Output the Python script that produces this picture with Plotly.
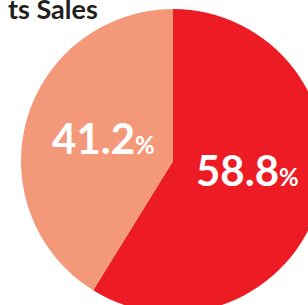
import plotly.graph_objects as go

categories = ["Segment A", "Segment B"]
values = [58.8, 41.2]
colors = ["#ED1C24", "#F4987A"]
title_text = "ts Sales"

W, H = 330, 320
cx, cy, r = 173, 161, 152

fig = go.Figure(go.Pie(
    labels=categories,
    values=values,
    sort=False,
    direction="clockwise",
    rotation=0,
    marker=dict(colors=colors, line=dict(width=0)),
    textinfo="none",
    hoverinfo="label+percent",
    showlegend=False,
    domain=dict(x=[(cx - r) / W, (cx + r) / W], y=[1 - (cy + r) / H, 1 - (cy - r) / H]),
))

label_pos = [(103, 138), (248, 170)]
label_pos = label_pos[::-1]
for v, (px, py) in zip(values, label_pos):
    fig.add_annotation(
        x=px / W, y=1 - py / H, xref="paper", yref="paper",
        xanchor="center", yanchor="middle", showarrow=False,
        text=f"<b>{v:.1f}</b><b><span style='font-size:24px'>%</span></b>",
        font=dict(family="Lato", size=42, color="white"),
    )

fig.add_annotation(
    x=100 / W, y=1 - 8 / H, xref="paper", yref="paper",
    xanchor="right", yanchor="middle", showarrow=False,
    text=f"<b>{title_text}</b>",
    font=dict(family="Lato", size=27, color="#231F20"),
)

fig.update_layout(
    width=W, height=H,
    margin=dict(l=0, r=0, t=0, b=0),
    paper_bgcolor="white", plot_bgcolor="white",
)

fig.write_html("out.html", config={"displayModeBar": False},
               post_script="document.body.style.margin='0';document.body.style.overflow='hidden';")
